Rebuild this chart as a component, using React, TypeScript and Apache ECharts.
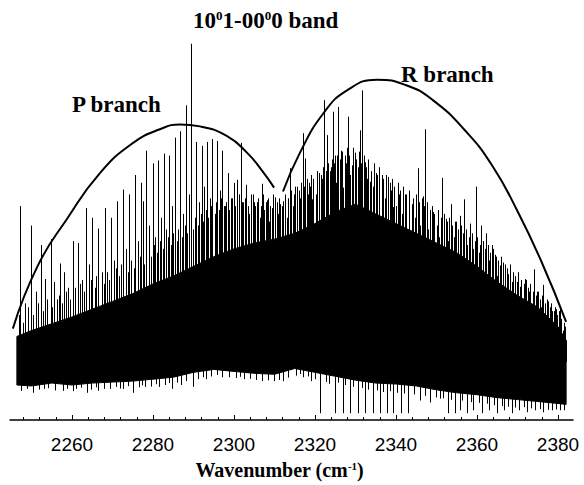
import React, { useEffect, useRef } from "react";
import * as echarts from "echarts";

// Wavenumber grid (cm^-1) for the dense spectral core
const coreWavenumber = [2246.4, 2250, 2255, 2260, 2265, 2270, 2275, 2280, 2285, 2290, 2295, 2300, 2305, 2310, 2315, 2320, 2325, 2330, 2335, 2340, 2345, 2350, 2355, 2360, 2365, 2370, 2375, 2380, 2382];
const coreLower = [9.0, 8.75, 9.5, 9.0, 9.5, 9.75, 10.0, 10.5, 11.0, 12.25, 13.0, 12.5, 12.0, 11.75, 13.25, 12.25, 11.25, 10.25, 9.5, 9.25, 8.75, 7.75, 7.0, 6.5, 5.75, 5.25, 4.75, 4.25, 4.0];
const coreUpper = [21.5, 23.0, 24.75, 26.5, 28.5, 30.5, 32.5, 35.0, 37.0, 39.5, 42.0, 44.0, 45.5, 46.5, 48.0, 50.5, 53.5, 55.5, 53.0, 50.5, 48.0, 45.5, 43.0, 39.5, 35.5, 32.0, 29.0, 24.0, 20.5];

// Strong absorption lines rising above the core
const upSpikeWavenumber = [2247.1, 2249.9, 2252.3, 2253.3, 2254.7, 2255.6, 2257.0, 2258.1, 2260.3, 2261.6, 2263.5, 2265.0, 2266.5, 2268.1, 2269.6, 2271.1, 2272.6, 2274.0, 2275.6, 2277.0, 2277.5, 2278.4, 2279.9, 2281.3, 2282.7, 2284.0, 2285.4, 2286.7, 2288.1, 2289.4, 2290.7, 2292.0, 2293.3, 2294.6, 2295.8, 2297.1, 2298.5, 2299.9, 2300.8, 2301.7, 2303.0, 2304.6, 2305.7, 2306.9, 2308.1, 2309.3, 2310.1, 2311.4, 2312.1, 2313.8, 2315.1, 2317.0, 2317.5, 2318.2, 2319.3, 2321.1, 2322.3, 2322.9, 2324.4, 2324.9, 2325.8, 2326.4, 2327.0, 2328.2, 2329.1, 2329.9, 2331.1, 2331.7, 2332.3, 2333.6, 2335.0, 2336.5, 2338.1, 2339.3, 2340.8, 2342.2, 2343.9, 2345.4, 2346.6, 2347.2, 2349.1, 2350.1, 2351.4, 2352.3, 2353.6, 2354.8, 2355.8, 2356.8, 2358.3, 2359.8, 2361.0, 2362.2, 2363.6, 2364.4, 2365.7, 2366.4, 2367.7, 2368.6, 2369.8, 2370.6, 2371.8, 2372.8, 2374.1, 2375.1, 2376.4, 2377.5, 2378.6, 2379.5, 2380.5, 2381.9];
const upSpikePeak = [55.0, 50.0, 45.0, 36.25, 46.5, 35.5, 40.25, 38, 46, 45.5, 54.5, 52, 49.25, 54.5, 52, 56.25, 59.25, 58, 63, 61, 56.25, 69.25, 66, 66.75, 68.5, 68, 72.6, 74.25, 80.9, 96.75, 71.5, 70.5, 71.5, 72.25, 71.75, 69.25, 63.5, 61, 61.75, 71.25, 60.5, 58, 56, 60.75, 56.5, 54.5, 57.25, 55.5, 56.25, 64.75, 60, 73.75, 67.25, 58, 56.75, 63.5, 82.25, 73.25, 79.25, 68, 80.5, 69.25, 59.75, 78, 65.5, 68.75, 74.5, 84.75, 66.25, 61.25, 63.5, 63, 62.5, 54.75, 58, 58, 55.5, 64.75, 57.5, 74.75, 53.5, 50, 62.25, 51.75, 55.5, 51, 52.5, 56.75, 50.5, 60, 50, 48, 45, 42.5, 39.75, 40.5, 37.5, 35.5, 35.5, 34.25, 36.25, 33, 38.75, 33, 34.75, 30.5, 28, 28.5, 28.75, 20.5];

// Medium lines forming the forest above the core
const weakLineWavenumber = [2248.5, 2251.0, 2256.3, 2259.0, 2262.5, 2264.2, 2267.3, 2270.3, 2273.3, 2276.3, 2279.1, 2280.6, 2282.0, 2283.3, 2284.7, 2287.4, 2288.8, 2291.3, 2292.7, 2294.0, 2296.5, 2297.8, 2299.2, 2302.3, 2303.8, 2305.2, 2306.3, 2307.5, 2308.7, 2310.8, 2313.0, 2314.5, 2316.2, 2318.8, 2320.2, 2321.7, 2323.6, 2325.3, 2327.6, 2328.7, 2330.5, 2332.9, 2334.2, 2335.8, 2337.3, 2338.8, 2340.1, 2341.5, 2343.1, 2344.6, 2346.0, 2348.0, 2350.7, 2352.9, 2354.2, 2357.5, 2359.1, 2360.4, 2361.6, 2363.0, 2365.0, 2367.0, 2369.2, 2371.2, 2373.4, 2375.7, 2377.0, 2378.0, 2379.0, 2381.2];
const weakLinePeak = [30, 33, 31, 34, 36, 40, 38, 41, 44, 46, 50, 47, 52, 49, 55, 53, 58, 56, 60, 57, 59, 55, 57, 56, 53, 55, 52, 54, 51, 53, 52, 55, 57, 60, 58, 62, 64, 61, 66, 63, 65, 62, 60, 58, 57, 59, 55, 53, 54, 52, 50, 49, 47, 46, 47, 45, 44, 43, 42, 41, 37, 35, 32, 31, 30, 29, 27, 26, 25.5, 23];

// Faint lines: the grass on top of the core
const faintLineWavenumber = [2246.9, 2248.0, 2249.2, 2250.4, 2251.5, 2252.8, 2253.9, 2255.1, 2256.8, 2257.5, 2258.6, 2259.6, 2260.8, 2262.0, 2263.0, 2264.7, 2265.6, 2266.0, 2267.8, 2268.6, 2269.1, 2270.8, 2271.7, 2272.1, 2273.8, 2274.6, 2275.2, 2276.8, 2277.9, 2278.9, 2279.5, 2280.2, 2281.0, 2281.8, 2282.4, 2283.8, 2284.4, 2285.0, 2285.9, 2286.3, 2287.1, 2287.9, 2288.5, 2289.0, 2290.0, 2290.4, 2291.0, 2291.8, 2292.4, 2293.0, 2293.7, 2294.3, 2295.2, 2295.5, 2296.2, 2296.9, 2297.5, 2298.1, 2298.8, 2299.5, 2300.3, 2301.2, 2302.0, 2302.7, 2303.4, 2304.2, 2305.0, 2305.9, 2306.6, 2307.2, 2307.9, 2308.4, 2309.0, 2309.7, 2310.5, 2311.1, 2311.8, 2312.5, 2313.3, 2314.1, 2314.8, 2315.5, 2316.0, 2316.6, 2317.3, 2318.0, 2318.5, 2319.0, 2319.6, 2320.5, 2321.4, 2322.0, 2322.6, 2323.2, 2323.9, 2324.1, 2324.7, 2325.5, 2326.1, 2326.7, 2327.3, 2327.9, 2328.5, 2329.4, 2330.2, 2330.8, 2331.4, 2332.0, 2332.6, 2333.2, 2333.9, 2334.5, 2335.3, 2335.9, 2336.8, 2337.5, 2338.4, 2339.0, 2339.6, 2340.4, 2341.0, 2341.8, 2342.5, 2343.3, 2344.2, 2344.9, 2345.7, 2346.3, 2347.0, 2347.6, 2348.3, 2348.8, 2349.5, 2350.4, 2351.1, 2351.8, 2352.6, 2353.2, 2353.9, 2354.5, 2355.2, 2356.1, 2356.5, 2357.2, 2357.9, 2358.7, 2359.4, 2360.1, 2360.8, 2361.4, 2362.0, 2362.7, 2363.3, 2364.0, 2364.7, 2365.3, 2366.0, 2366.9, 2367.4, 2368.1, 2368.9, 2369.5, 2370.2, 2370.9, 2371.5, 2372.1, 2372.5, 2373.1, 2373.8, 2374.5, 2374.9, 2375.5, 2376.1, 2376.7, 2377.3, 2377.9, 2378.3, 2378.9, 2379.3, 2379.8, 2380.2, 2380.8, 2381.4, 2381.7];
const faintLinePeak = [27, 25, 29, 27, 30, 28, 31, 29, 32, 30, 33, 31, 34, 35, 33, 36, 34, 37, 35, 38, 36, 39, 37, 40, 38, 41, 39, 42, 40, 44, 42, 45, 43, 46, 44, 47, 45, 48, 46, 49, 47, 50, 48, 51, 49, 52, 50, 53, 51, 54, 52, 55, 53, 56, 54, 57, 55, 56, 54, 57, 55, 58, 56, 57, 55, 58, 56, 57, 55, 58, 56, 57, 55, 58, 56, 57, 55, 58, 57, 59, 58, 60, 59, 61, 60, 62, 61, 63, 62, 64, 63, 65, 64, 66, 65, 67, 66, 68, 67, 69, 68, 70, 68, 70, 67, 69, 66, 68, 65, 67, 64, 66, 63, 65, 62, 63, 61, 62, 60, 61, 59, 60, 58, 59, 57, 58, 56, 57, 55, 56, 54, 55, 53, 54, 52, 53, 51, 52, 50, 51, 49, 50, 48, 49, 47, 48, 46, 47, 45, 46, 44, 45, 43, 44, 42, 41, 42, 40, 39, 40, 38, 37, 38, 36, 35, 36, 34, 35, 33, 32, 33, 31, 32, 30, 31, 29, 30, 28, 29, 27, 28, 26, 25, 24];
const spikeBase = 15;

// Strong lines dipping below the core
const downSpikeWavenumber = [2250.5, 2253.0, 2257.7, 2261.0, 2263.7, 2266.5, 2269.5, 2272.5, 2275.1, 2278.0, 2281.5, 2284.7, 2287.0, 2289.9, 2293.0, 2297.0, 2302.5, 2307.0, 2312.0, 2317.0, 2319.0, 2321.2, 2324.9, 2326.8, 2328.6, 2330.7, 2332.3, 2334.2, 2336.0, 2337.7, 2339.3, 2341.2, 2343.0, 2345.9, 2348.4, 2350.9, 2352.9, 2354.6, 2355.8, 2357.5, 2359.1, 2361.2, 2363.0, 2364.9, 2366.7, 2368.6, 2370.4, 2372.3, 2374.3, 2376.4, 2378.4, 2380.5];
const downSpikeFloor = [7, 8, 7.5, 8, 7, 7.5, 8, 8, 7, 8.5, 8.5, 8, 9, 8.5, 10.5, 11, 10.5, 10, 10, 11, 10, 1.75, 1.75, 1.75, 1.75, 1.75, 1.75, 1.75, 1.75, 1.75, 1.75, 1.75, 1.75, 5, 4.5, 5.5, 1.75, 1.75, 2.5, 1.75, 2.5, 1.75, 2.5, 1.75, 2.5, 1.75, 2.5, 2.0, 2.5, 2.0, 2.5, 2.5];

// Faint dips: ragged lower edge of the core
const faintDipWavenumber = [2247.5, 2249.0, 2251.8, 2254.0, 2255.8, 2258.8, 2260.2, 2262.2, 2264.8, 2265.9, 2268.0, 2270.9, 2271.8, 2273.9, 2276.5, 2277.3, 2279.4, 2280.7, 2282.9, 2283.9, 2286.0, 2288.2, 2291.2, 2292.3, 2294.4, 2295.9, 2298.7, 2300.5, 2301.5, 2304.0, 2305.5, 2308.5, 2309.8, 2311.0, 2313.3, 2315.4, 2316.4, 2318.3, 2320.0, 2322.8, 2323.5, 2325.7, 2327.5, 2329.3, 2331.5, 2333.0, 2335.4, 2336.8, 2338.5, 2340.3, 2342.0, 2344.4, 2347.1, 2349.8, 2351.7, 2353.5, 2356.3, 2358.4, 2360.5, 2362.4, 2364.2, 2366.1, 2367.6, 2369.5, 2371.5, 2373.4, 2375.5, 2377.5, 2379.6, 2381.4];
const faintDipFloor = [7.5, 8, 7.8, 8.2, 7.6, 8, 7.4, 8.3, 7.8, 8.4, 8, 8.5, 8.1, 8.7, 8.4, 8.9, 8.6, 9.2, 9.0, 9.5, 9.6, 10, 10.5, 11, 11.2, 11.6, 11, 10.8, 11.1, 10.6, 10.3, 10.2, 10.0, 10.3, 10.9, 11.4, 11.8, 11.2, 10.5, 9.8, 9.3, 9.6, 9, 8.5, 8.2, 7.8, 7.6, 7.2, 7.4, 7, 6.8, 6.6, 6.2, 5.8, 5.6, 5.2, 5, 4.6, 4.4, 4.2, 3.8, 3.6, 3.4, 3.2, 3.3, 3, 2.8, 2.6, 2.7, 2.5];

// Branch envelope curves
const pBranchWavenumber = [2245.4, 2251.6, 2258.8, 2266.9, 2275.1, 2281.7, 2286.7, 2291.6, 2298.3, 2303.2, 2307.2, 2309.9];
const pBranchEnvelope = [23.5, 39.75, 51.75, 63.5, 71.25, 74.75, 76, 75.5, 73, 68.75, 63.75, 59.75];
const rBranchWavenumber = [2312.1, 2316.3, 2322.0, 2327.9, 2335.3, 2342.7, 2349.1, 2357.0, 2363.7, 2370.1, 2376.0, 2382.0];
const rBranchEnvelope = [58.75, 68.75, 78.75, 84.75, 87.5, 86, 82.25, 74.5, 65.5, 53.5, 40.5, 25.25];

// Axis ticks
const majorTicks = [2260, 2280, 2300, 2320, 2340, 2360, 2380];
const minorTicks = [2248, 2252, 2256, 2264, 2268, 2272, 2276, 2284, 2288, 2292, 2296, 2304, 2308, 2312, 2316, 2324, 2328, 2332, 2336, 2344, 2348, 2352, 2356, 2364, 2368, 2372, 2376];

const X_MIN = 2244.7;
const X_MAX = 2383.7;

const serif = "'Liberation Serif', 'Times New Roman', serif";
const sans = "'Liberation Sans', Arial, sans-serif";

export default function App() {
  const ref = useRef<HTMLDivElement>(null);

  useEffect(() => {
    if (!ref.current) return;
    const chart = echarts.init(ref.current, null, { renderer: "svg" });

    const spikeItem = (params: any, api: any) => {
      const x = api.value(0);
      const p1 = api.coord([x, api.value(1)]);
      const p2 = api.coord([x, api.value(2)]);
      const px = Math.round(p1[0]) + 0.5;
      return {
        type: "line",
        shape: { x1: px, y1: p1[1], x2: px, y2: p2[1] },
        style: { stroke: "#000", lineWidth: 1 },
      };
    };

    const coreItem = (params: any, api: any) => {
      const pts: number[][] = [];
      for (let i = 0; i < coreWavenumber.length; i++) {
        pts.push(api.coord([coreWavenumber[i], coreUpper[i]]));
      }
      for (let i = coreWavenumber.length - 1; i >= 0; i--) {
        pts.push(api.coord([coreWavenumber[i], coreLower[i]]));
      }
      return {
        type: "polygon",
        shape: { points: pts },
        style: { fill: "#000", stroke: "#000", lineWidth: 1 },
      };
    };

    const lineSeries = (name: string, xs: number[], lo: number[] | number, hi: number[] | number) => ({
      type: "custom",
      name,
      renderItem: spikeItem,
      encode: { x: 0, y: [1, 2] },
      data: xs.map((v, i) => [
        v,
        Array.isArray(lo) ? lo[i] : lo,
        Array.isArray(hi) ? hi[i] : hi,
      ]),
      z: 3,
    });

    const option: any = {
      animation: false,
      backgroundColor: "#fff",
      grid: { left: 10, right: 11, top: 0, bottom: 53, containLabel: false },
      xAxis: [
        {
          type: "value",
          min: X_MIN,
          max: X_MAX,
          axisLine: { show: true, lineStyle: { color: "#000", width: 1.5 } },
          axisTick: { show: true, inside: true, length: 5, customValues: majorTicks, lineStyle: { color: "#000", width: 1 } },
          axisLabel: {
            show: true,
            customValues: majorTicks,
            margin: 15,
            color: "#000",
            fontSize: 19,
            fontFamily: sans,
            formatter: (v: number) => String(v),
          },
          splitLine: { show: false },
          name: "Wavenumber (cm{sup|-1})",
          nameLocation: "middle",
          nameGap: 40,
          nameTextStyle: {
            color: "#000",
            fontSize: 20,
            fontWeight: "bold",
            fontFamily: serif,
            padding: [0, 24, 0, 0],
            rich: {
              sup: { fontSize: 11, fontWeight: "bold", fontFamily: serif, verticalAlign: "top", color: "#000" },
            },
          },
        },
        {
          type: "value",
          min: X_MIN,
          max: X_MAX,
          position: "bottom",
          axisLine: { show: false },
          axisTick: { show: true, inside: true, length: 3, customValues: minorTicks, lineStyle: { color: "#000", width: 1 } },
          axisLabel: { show: false },
          splitLine: { show: false },
        },
      ],
      yAxis: { type: "value", min: 0, max: 108, show: false },
      graphic: [
        {
          type: "text",
          left: 193,
          top: 9,
          style: {
            text: "10{sup|0}1-00{sup|0}0 band",
            fontSize: 23,
            fontWeight: "bold",
            fontFamily: serif,
            fill: "#000",
            rich: {
              sup: { fontSize: 13, fontWeight: "bold", fontFamily: serif, verticalAlign: "top", fill: "#000" },
            },
          },
        },
        {
          type: "text",
          left: 72,
          top: 93,
          style: { text: "P branch", fontSize: 23, fontWeight: "bold", fontFamily: serif, fill: "#000" },
        },
        {
          type: "text",
          left: 401,
          top: 63,
          style: { text: "R branch", fontSize: 23, fontWeight: "bold", fontFamily: serif, fill: "#000" },
        },
      ],
      series: [
        {
          type: "custom",
          name: "core",
          renderItem: coreItem,
          encode: { x: 0, y: 1 },
          data: [[coreWavenumber[0], coreLower[0]]],
          z: 2,
        },
        lineSeries("faint lines", faintLineWavenumber, spikeBase, faintLinePeak),
        lineSeries("weak lines", weakLineWavenumber, spikeBase, weakLinePeak),
        lineSeries("lines", upSpikeWavenumber, spikeBase, upSpikePeak),
        lineSeries("faint dips", faintDipWavenumber, faintDipFloor, spikeBase),
        lineSeries("dips", downSpikeWavenumber, downSpikeFloor, spikeBase),
        {
          type: "line",
          name: "P branch",
          smooth: 0.5,
          symbol: "none",
          lineStyle: { color: "#000", width: 2 },
          data: pBranchWavenumber.map((v, i) => [v, pBranchEnvelope[i]]),
          z: 4,
        },
        {
          type: "line",
          name: "R branch",
          smooth: 0.5,
          symbol: "none",
          lineStyle: { color: "#000", width: 2 },
          data: rBranchWavenumber.map((v, i) => [v, rBranchEnvelope[i]]),
          z: 4,
        },
      ],
    };

    chart.setOption(option);
    return () => chart.dispose();
  }, []);

  return (
    <div
      ref={ref}
      style={{ position: "fixed", left: 0, top: 0, width: 584, height: 485, background: "#fff" }}
    />
  );
}
